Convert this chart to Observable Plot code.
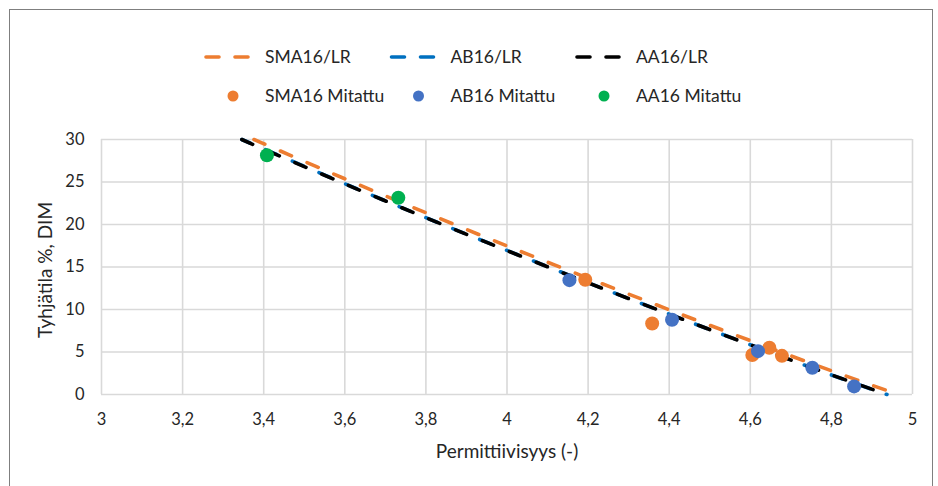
<!DOCTYPE html>
<html>
<head>
<meta charset="utf-8">
<script src="https://cdn.jsdelivr.net/npm/d3@7"></script>
<script src="https://cdn.jsdelivr.net/npm/@observablehq/plot@0.6"></script>
<style>
  html, body { margin: 0; padding: 0; background: #fff; }
  #frame { position: relative; width: 938px; height: 486px; overflow: hidden; font-family: Lato, "Open Sans", sans-serif; }
  #border { position: absolute; left: 9px; top: 9px; width: 924px; height: 520px; border: 1px solid #7f7f7f; box-sizing: border-box; }
  #legend { position: absolute; left: 0; top: 0; }
  #chart { position: absolute; left: 0; top: 118px; }
</style>
</head>
<body>
<div id="frame">
  <div id="border"></div>
  <svg id="legend" width="938" height="118"></svg>
  <div id="chart"></div>
</div>
<script>
// Measured voids (Tyhjätila %) against permittivity
const smaMeasX = [4.193, 4.358, 4.605, 4.647, 4.678];
const smaMeasY = [13.5, 8.35, 4.65, 5.5, 4.55];
const abMeasX = [4.154, 4.407, 4.619, 4.753, 4.856];
const abMeasY = [13.45, 8.8, 5.1, 3.15, 0.95];
const aaMeasX = [3.408, 3.732];
const aaMeasY = [28.15, 23.15];

// LR model curves
const smaLrX = [3.376, 3.4, 3.6, 3.8, 4.0, 4.2, 4.4, 4.6, 4.8, 4.965];
const smaLrY = [30, 29.5, 25.38, 21.38, 17.48, 13.68, 9.97, 6.34, 2.79, 0];
const abLrX = [3.346, 3.4, 3.6, 3.8, 4.0, 4.2, 4.4, 4.6, 4.8, 4.937];
const abLrY = [30, 28.9, 24.8, 20.8, 16.95, 13.15, 9.45, 5.85, 2.3, 0];
const aaLrX = [3.346, 3.4, 3.6, 3.8, 4.0, 4.2, 4.4, 4.6, 4.8, 4.937];
const aaLrY = [30, 28.87, 24.78, 20.8, 16.93, 13.14, 9.45, 5.84, 2.31, 0];

const xTicks = [3, 3.2, 3.4, 3.6, 3.8, 4, 4.2, 4.4, 4.6, 4.8, 5];
const yTicks = [0, 5, 10, 15, 20, 25, 30];

const lineNames = ["SMA16/LR", "AB16/LR", "AA16/LR"];
const lineColors = ["#ED7D31", "#0070C0", "#000000"];
const dotNames = ["SMA16 Mitattu", "AB16 Mitattu", "AA16 Mitattu"];
const dotColors = ["#ED7D31", "#4472C4", "#00B050"];

const xLabel = "Permittiivisyys (-)";
const yLabel = "Tyhjätila %, DIM";

const font = "Lato, 'Open Sans', sans-serif";
const ink = "#262626";
const toRows = (xs, ys) => xs.map((x, i) => ({x, y: ys[i]}));
const fmt = d => Number.isInteger(d) ? String(d) : d.toFixed(1).replace(".", ",");

const dash = {strokeWidth: 3.6, strokeLinecap: "round", strokeDasharray: "12,17", curve: "catmull-rom"};

const chart = Plot.plot({
  width: 938,
  height: 368,
  marginLeft: 101,
  marginRight: 26,
  marginTop: 21,
  marginBottom: 92,
  style: {fontFamily: font, fontSize: "16.5px", color: ink, background: "transparent"},
  x: {domain: [3, 5]},
  y: {domain: [0, 30]},
  marks: [
    Plot.gridX(xTicks, {stroke: "#d9d9d9", strokeOpacity: 1, strokeWidth: 1.6}),
    Plot.gridY(yTicks, {stroke: "#d9d9d9", strokeOpacity: 1, strokeWidth: 1.6}),
    Plot.axisX({ticks: xTicks, tickSize: 0, tickPadding: 19, tickFormat: fmt, label: null, fill: ink}),
    Plot.axisY({ticks: yTicks, tickSize: 0, tickPadding: 17, tickFormat: fmt, label: null, fill: ink}),
    Plot.line(toRows(smaLrX, smaLrY), {...dash, x: "x", y: "y", stroke: lineColors[0]}),
    Plot.line(toRows(abLrX, abLrY), {...dash, x: "x", y: "y", stroke: lineColors[1], strokeDashoffset: 3}),
    Plot.line(toRows(aaLrX, aaLrY), {...dash, x: "x", y: "y", stroke: lineColors[2]}),
    Plot.dot(toRows(smaMeasX, smaMeasY), {x: "x", y: "y", r: 7, fill: dotColors[0]}),
    Plot.dot(toRows(abMeasX, abMeasY), {x: "x", y: "y", r: 7, fill: dotColors[1]}),
    Plot.dot(toRows(aaMeasX, aaMeasY), {x: "x", y: "y", r: 7, fill: dotColors[2]}),
    Plot.text([xLabel], {frameAnchor: "bottom", dy: 57, textAnchor: "middle", lineAnchor: "middle", fontSize: 19, fill: ink}),
    Plot.text([yLabel], {frameAnchor: "left", rotate: -90, dx: -56, dy: 3, textAnchor: "middle", lineAnchor: "middle", fontSize: 19, fill: ink})
  ]
});
document.getElementById("chart").append(chart);

// Legend: dashed-line swatches on the first row, dot swatches on the second
const legend = d3.select("#legend");
const colStep = 185.5, col0 = 204;
lineNames.forEach((name, i) => {
  const x0 = col0 + i * colStep;
  legend.append("line")
    .attr("x1", x0 + 2).attr("x2", x0 + 44).attr("y1", 57).attr("y2", 57)
    .attr("stroke", lineColors[i]).attr("stroke-width", 3.6)
    .attr("stroke-linecap", "round").attr("stroke-dasharray", "13,16");
  legend.append("text")
    .attr("x", x0 + 61).attr("y", 57).attr("dy", "0.35em")
    .attr("font-family", font).attr("font-size", 17.5).attr("fill", ink)
    .text(name);
});
dotNames.forEach((name, i) => {
  const x0 = col0 + i * colStep;
  legend.append("circle")
    .attr("cx", x0 + 29).attr("cy", 96).attr("r", 5.5)
    .attr("fill", dotColors[i]);
  legend.append("text")
    .attr("x", x0 + 61).attr("y", 96).attr("dy", "0.35em")
    .attr("font-family", font).attr("font-size", 17.5).attr("fill", ink)
    .text(name);
});
</script>
</body>
</html>
